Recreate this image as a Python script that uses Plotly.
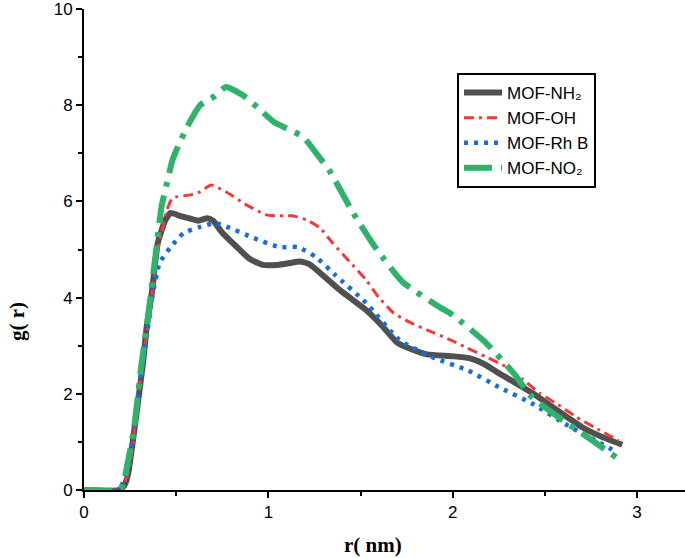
import plotly.graph_objects as go

nh2_r = [0, 0.19, 0.22, 0.24, 0.28, 0.32, 0.34, 0.37, 0.40, 0.44, 0.47, 0.52, 0.57, 0.62, 0.67, 0.70, 0.75, 0.83, 0.90, 0.97, 1.05, 1.12, 1.17, 1.22, 1.30, 1.39, 1.53, 1.62, 1.70, 1.78, 1.86, 2.0, 2.09, 2.17, 2.25, 2.43, 2.55, 2.70, 2.80, 2.92]
nh2_g = [0, 0, 0.1, 0.35, 1.45, 2.64, 3.39, 4.16, 5.13, 5.6, 5.76, 5.7, 5.65, 5.6, 5.65, 5.6, 5.35, 5.05, 4.8, 4.68, 4.68, 4.72, 4.75, 4.7, 4.45, 4.15, 3.74, 3.4, 3.06, 2.92, 2.82, 2.78, 2.74, 2.62, 2.43, 2.02, 1.7, 1.31, 1.12, 0.94]

oh_r = [0, 0.19, 0.22, 0.25, 0.28, 0.32, 0.36, 0.40, 0.43, 0.45, 0.48, 0.57, 0.63, 0.69, 0.77, 0.88, 0.99, 1.06, 1.13, 1.21, 1.28, 1.35, 1.44, 1.53, 1.60, 1.68, 1.76, 1.86, 2.0, 2.08, 2.18, 2.29, 2.38, 2.47, 2.57, 2.67, 2.77, 2.9]
oh_g = [0, 0, 0.15, 0.5, 1.5, 2.7, 3.8, 5.0, 5.5, 5.82, 6.07, 6.13, 6.2, 6.34, 6.2, 5.93, 5.72, 5.7, 5.7, 5.61, 5.45, 5.13, 4.75, 4.37, 4.0, 3.68, 3.5, 3.33, 3.1, 2.95, 2.77, 2.56, 2.3, 2.02, 1.78, 1.52, 1.3, 1.03]

rhb_r = [0, 0.19, 0.21, 0.24, 0.29, 0.34, 0.37, 0.41, 0.47, 0.54, 0.63, 0.71, 0.79, 0.92, 1.06, 1.16, 1.26, 1.36, 1.53, 1.71, 1.89, 2.08, 2.25, 2.43, 2.62, 2.75, 2.89]
rhb_g = [0, 0, 0.15, 0.48, 1.87, 3.18, 4.01, 4.72, 5.05, 5.34, 5.47, 5.55, 5.45, 5.24, 5.05, 5.05, 4.84, 4.48, 3.89, 3.12, 2.76, 2.49, 2.14, 1.8, 1.35, 1.08, 0.79]

no2_r = [0, 0.19, 0.21, 0.27, 0.31, 0.35, 0.40, 0.42, 0.45, 0.48, 0.52, 0.56, 0.63, 0.71, 0.77, 0.86, 0.94, 1.03, 1.12, 1.19, 1.26, 1.33, 1.46, 1.59, 1.73, 1.93, 2.0, 2.18, 2.33, 2.43, 2.62, 2.75, 2.89]
no2_g = [0, 0, 0.1, 1.25, 2.56, 3.68, 5.26, 5.88, 6.38, 6.86, 7.23, 7.55, 8.0, 8.19, 8.38, 8.21, 7.96, 7.65, 7.48, 7.34, 7.0, 6.65, 5.76, 4.99, 4.32, 3.8, 3.64, 3.06, 2.43, 1.93, 1.39, 1.05, 0.67]

names = ["MOF-NH₂", "MOF-OH", "MOF-Rh B", "MOF-NO₂"]
x_ticks = [0, 1, 2, 3]
y_ticks = [0, 2, 4, 6, 8, 10]

fig = go.Figure()
fig.add_trace(go.Scatter(x=nh2_r, y=nh2_g, name=names[0], mode="lines",
                         line=dict(color="#505050", width=6, shape="spline", smoothing=0.5)))
fig.add_trace(go.Scatter(x=oh_r, y=oh_g, name=names[1], mode="lines",
                         line=dict(color="#f23a3a", width=3, dash="10px,5px,3px,5px", shape="spline", smoothing=0.5)))
fig.add_trace(go.Scatter(x=rhb_r, y=rhb_g, name=names[2], mode="lines",
                         line=dict(color="#1a6be0", width=4.5, dash="4px,6px", shape="spline", smoothing=0.5)))
fig.add_trace(go.Scatter(x=no2_r, y=no2_g, name=names[3], mode="lines",
                         line=dict(color="#2fb36a", width=6, dash="28px,9px,5px,9px", shape="spline", smoothing=0.5)))

axis_common = dict(showline=True, linecolor="black", linewidth=2, ticks="outside",
                   ticklen=6, tickwidth=2, tickcolor="black", showgrid=False, zeroline=False,
                   automargin=False, ticklabeloverflow="allow",
                   tickfont=dict(family="Liberation Sans, Arial", size=17, color="black"))

title_font = dict(family="Liberation Serif, Times New Roman", size=21, color="black")

L, R, T, B, W, H = 84, 0, 9, 68, 685, 558
pw, ph = W - L - R, H - T - B

fig.update_layout(
    width=W, height=H,
    margin=dict(l=L, r=R, t=T, b=B),
    plot_bgcolor="white", paper_bgcolor="white",
    xaxis=dict(range=[0, 3.26], tickvals=x_ticks,
               minor=dict(tickvals=[0.5, 1.5, 2.5], ticks="outside", ticklen=4, tickwidth=2, tickcolor="black"),
               **axis_common),
    yaxis=dict(range=[0, 10.0001], tickvals=y_ticks,
               minor=dict(tickvals=[1, 3, 5, 7, 9], ticks="outside", ticklen=4, tickwidth=2, tickcolor="black"),
               **axis_common),
    legend=dict(x=(457 - L) / pw, y=(H - B - 73) / ph, xanchor="left", yanchor="top",
                bordercolor="black", borderwidth=2, bgcolor="white",
                font=dict(family="Liberation Sans, Arial", size=17, color="black"),
                itemwidth=38, tracegroupgap=0),
    showlegend=True,
    annotations=[
        dict(text="<b>r( nm)</b>", x=(373 - L) / pw, y=(H - B - 545) / ph, xref="paper", yref="paper",
             xanchor="center", yanchor="middle", showarrow=False, font=title_font),
        dict(text="<b>g( r)</b>", x=(17 - L) / pw, y=(H - B - 322) / ph, xref="paper", yref="paper",
             xanchor="center", yanchor="middle", showarrow=False, textangle=-90, font=title_font),
    ],
)

fig.write_html("out.html", config={"displayModeBar": False},
               post_script="document.body.style.margin='0';document.body.style.overflow='hidden';")
